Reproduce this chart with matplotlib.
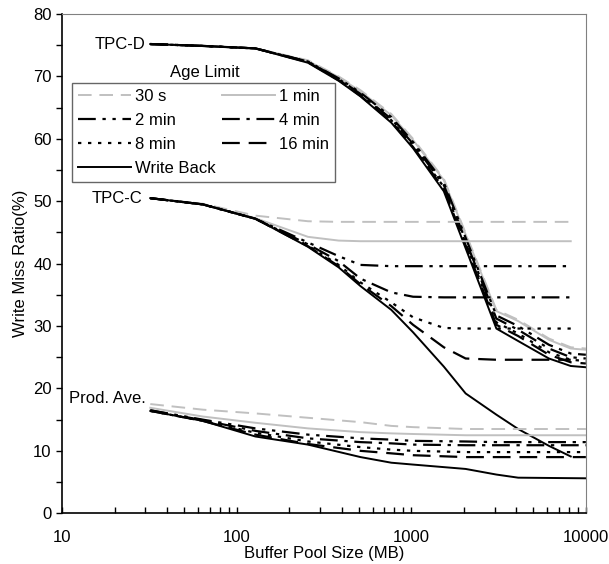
import matplotlib
matplotlib.use("Agg")
import matplotlib.pyplot as plt
from matplotlib.lines import Line2D
from matplotlib.ticker import MultipleLocator, LogLocator, NullFormatter, FixedLocator, FixedFormatter

plt.rcParams['font.family'] = ['Liberation Sans Narrow', 'Liberation Sans', 'DejaVu Sans']

# данные
labels = ['30 s', '1 min', '2 min', '4 min', '8 min', '16 min', 'Write Back']

x_tpcd = [32, 64, 128, 256, 384, 512, 768, 1024, 1536, 3072, 4096, 6144, 8192, 10000]
tpcd = [
    [75.2, 74.9, 74.5, 72.6, 70.0, 67.8, 64.0, 60.0, 53.6, 32.6, 31.0, 28.0, 26.6, 26.4],
    [75.2, 74.9, 74.5, 72.5, 69.9, 67.6, 63.8, 59.8, 53.4, 32.4, 30.8, 27.8, 26.4, 26.2],
    [75.2, 74.9, 74.5, 72.4, 69.7, 67.4, 63.5, 59.5, 53.0, 31.7, 30.0, 27.0, 25.6, 25.4],
    [75.2, 74.9, 74.5, 72.4, 69.6, 67.2, 63.2, 59.2, 52.6, 31.2, 29.4, 26.4, 25.0, 24.8],
    [75.2, 74.9, 74.5, 72.3, 69.5, 67.0, 63.0, 58.9, 52.3, 30.6, 28.8, 25.8, 24.6, 24.4],
    [75.2, 74.9, 74.5, 72.3, 69.4, 66.9, 62.8, 58.7, 52.0, 30.2, 28.4, 25.4, 24.2, 24.0],
    [75.2, 74.9, 74.5, 72.2, 69.3, 66.8, 62.6, 58.5, 51.6, 29.6, 27.6, 24.8, 23.6, 23.4],
]

x_tpcc = [32, 64, 128, 256, 384, 512, 768, 1024, 1536, 2048, 3072, 4096, 6144, 8192]
tpcc = [
    [50.5, 49.6, 47.7, 46.8, 46.7, 46.7, 46.7, 46.7, 46.7, 46.7, 46.7, 46.7, 46.7, 46.7],
    [50.5, 49.5, 47.3, 44.3, 43.7, 43.6, 43.6, 43.6, 43.6, 43.6, 43.6, 43.6, 43.6, 43.6],
    [50.5, 49.5, 47.2, 43.4, 41.2, 39.8, 39.6, 39.6, 39.6, 39.6, 39.6, 39.6, 39.6, 39.6],
    [50.5, 49.5, 47.2, 43.1, 40.4, 37.6, 35.4, 34.7, 34.6, 34.6, 34.6, 34.6, 34.6, 34.6],
    [50.5, 49.5, 47.2, 42.9, 39.8, 37.0, 33.8, 31.4, 29.7, 29.6, 29.6, 29.6, 29.6, 29.6],
    [50.5, 49.5, 47.2, 42.8, 39.6, 36.7, 33.2, 30.2, 26.6, 24.8, 24.6, 24.6, 24.6, 24.6],
    [50.5, 49.5, 47.2, 42.7, 39.4, 36.4, 32.6, 29.0, 23.5, 19.2, 15.8, 13.5, 10.8, 9.1],
]

x_prod = [32, 64, 128, 256, 512, 768, 1024, 2048, 3072, 4096, 10000]
prod = [
    [17.5, 16.6, 16.0, 15.3, 14.6, 14.0, 13.8, 13.5, 13.5, 13.5, 13.5],
    [16.9, 15.5, 14.5, 13.6, 13.0, 12.8, 12.7, 12.5, 12.5, 12.5, 12.5],
    [16.5, 15.0, 13.6, 12.6, 12.0, 11.8, 11.6, 11.5, 11.4, 11.4, 11.4],
    [16.5, 14.9, 13.2, 12.0, 11.4, 11.2, 11.0, 10.9, 10.9, 10.9, 10.9],
    [16.4, 14.8, 12.9, 11.5, 10.6, 10.2, 10.0, 9.8, 9.8, 9.8, 9.8],
    [16.4, 14.8, 12.6, 11.1, 10.0, 9.6, 9.3, 9.0, 9.0, 9.0, 9.0],
    [16.4, 14.8, 12.3, 11.0, 9.0, 8.1, 7.8, 7.1, 6.2, 5.7, 5.6],
]

# стили линий
grey = '#c0c0c0'
styles = [
    dict(color=grey, lw=1.4, dashes=(7, 4)),
    dict(color=grey, lw=1.4, ls='-'),
    dict(color='black', lw=1.6, dashes=(8, 3, 1.5, 3, 1.5, 3)),
    dict(color='black', lw=1.6, dashes=(8, 3, 1.5, 3)),
    dict(color='black', lw=1.6, dashes=(1.5, 3)),
    dict(color='black', lw=1.6, dashes=(8, 4)),
    dict(color='black', lw=1.4, ls='-'),
]

fig = plt.figure(figsize=(6.09, 5.64), dpi=100)
ax = fig.add_axes([0.102, 0.09, 0.86, 0.885])

for xs, group in [(x_tpcd, tpcd), (x_tpcc, tpcc), (x_prod, prod)]:
    for ys, st in zip(group, styles):
        ax.plot(xs, ys, **st)

ax.set_xscale('log')
ax.set_xlim(10, 10000)
ax.set_ylim(0, 80)
ax.yaxis.set_major_locator(MultipleLocator(10))
ax.yaxis.set_minor_locator(MultipleLocator(5))
ax.xaxis.set_major_locator(FixedLocator([10, 100, 1000, 10000]))
ax.xaxis.set_major_formatter(FixedFormatter(['10', '100', '1000', '10000']))
ax.xaxis.set_minor_locator(LogLocator(base=10, subs=range(2, 10)))
ax.xaxis.set_minor_formatter(NullFormatter())
ax.tick_params(axis='both', which='both', labelsize=12, length=4, width=1, color='black')
ax.tick_params(axis='x', which='both', direction='in', pad=12)
ax.tick_params(axis='y', which='both', direction='out')

for side in ['top', 'right']:
    ax.spines[side].set_color('#808080')
for side in ['left', 'bottom']:
    ax.spines[side].set_color('black')
    ax.spines[side].set_linewidth(1.2)

ax.set_xlabel('Buffer Pool Size (MB)', fontsize=12, labelpad=1)
ax.set_ylabel('Write Miss Ratio(%)', fontsize=12, labelpad=4)

ax.text(30, 75.2, 'TPC-D', ha='right', va='center', fontsize=12)
ax.text(29, 50.5, 'TPC-C', ha='right', va='center', fontsize=12)
ax.text(30, 18.4, 'Prod. Ave.', ha='right', va='center', fontsize=12)

handles = [Line2D([], [], **st) for st in styles]
order = [0, 2, 4, 6, 1, 3, 5]
leg = ax.legend([handles[i] for i in order], [labels[i] for i in order],
                ncol=2, loc='upper left', bbox_to_anchor=(0.019, 0.862),
                fontsize=12, frameon=True, fancybox=False, borderpad=0.35,
                handlelength=3.2, handletextpad=0.25, columnspacing=0.35,
                labelspacing=0.55, borderaxespad=0)
leg.get_frame().set_edgecolor('#404040')
leg.get_frame().set_linewidth(1.0)
ax.text(0.273, 0.882, 'Age Limit', transform=ax.transAxes, ha='center',
        va='center', fontsize=12)

fig.savefig('out.png', dpi=100)
